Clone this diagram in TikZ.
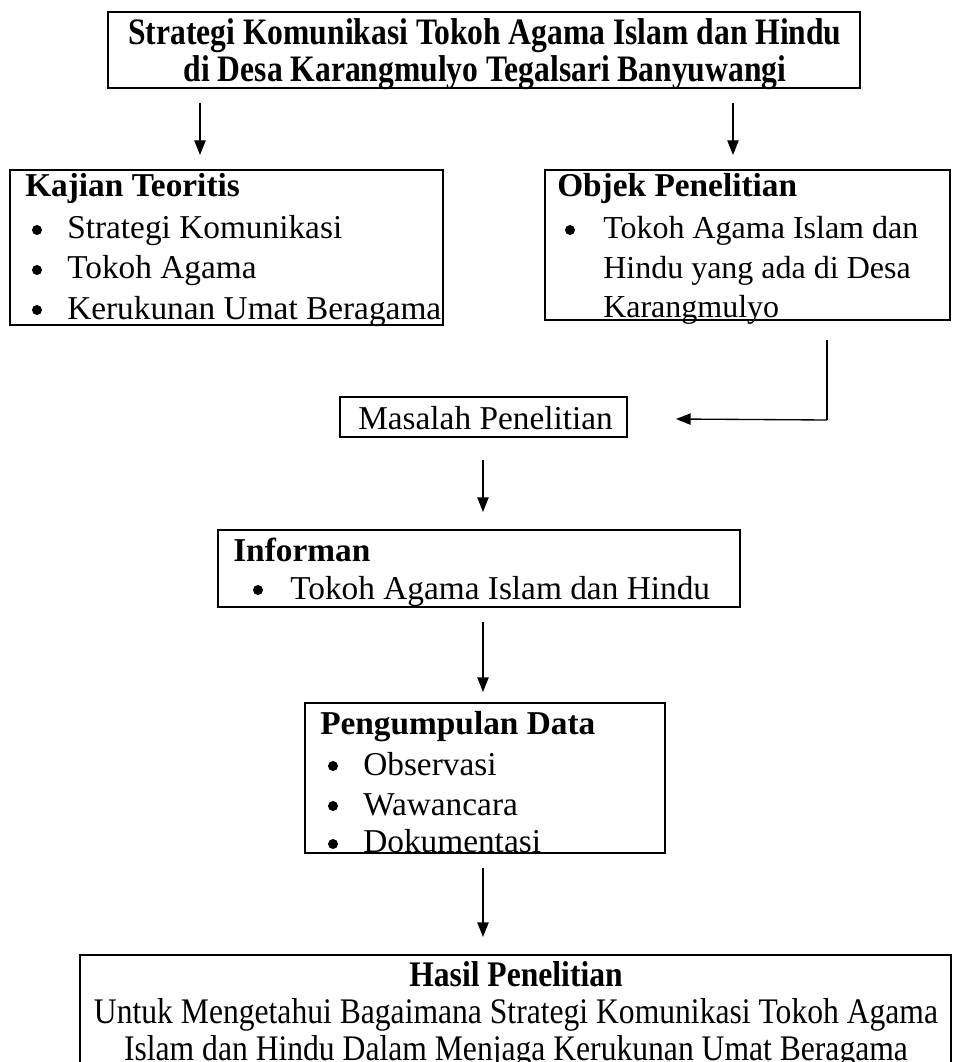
\documentclass[tikz,border=0pt]{standalone}
\usepackage{fontspec}
\setmainfont{Liberation Serif}
\usetikzlibrary{arrows.meta,fit}
\begin{document}
\begin{tikzpicture}[x=0.75pt,y=-0.75pt,
  frame/.style={draw, line width=1.8pt, inner sep=0pt, outer sep=0pt},
  txt/.style={anchor=base west, inner sep=0pt, font=\fontsize{25}{30}\selectfont},
  otxt/.style={anchor=base west, inner sep=0pt, font=\fontsize{24}{30}\selectfont},
  btxt/.style={txt, font=\fontsize{25}{30}\selectfont\bfseries},
  ctr/.style={anchor=base, inner sep=0pt, font=\fontsize{27}{32}\selectfont},
  bctr/.style={ctr, font=\fontsize{27}{32}\selectfont\bfseries},
  tctr/.style={anchor=base, inner sep=0pt, font=\fontsize{28}{32}\selectfont\bfseries},
  bul/.style={circle, fill, inner sep=0pt, minimum size=7.5pt},
  arr/.style={-{Triangle[length=11pt,width=8.5pt]}, line width=1pt}]
\useasboundingbox (0,0) rectangle (953,1062);
% boxes
\node[frame, fit={(108,12) (860,88)}] (top) {};
\node[frame, fit={(10,170) (443,325)}] (kaj) {};
\node[frame, fit={(545,170) (950,320)}] (obj) {};
\node[frame, fit={(340,397) (627,437)}] (mas) {};
\node[frame, fit={(218,530) (740,607)}] (inf) {};
\node[frame, fit={(305,703) (665,853)}] (pen) {};
\node[frame, fit={(80,955) (951,1075)}] (has) {};
% top title
\node[tctr] (t1) at (485,45) {\scalebox{0.846}[1]{Strategi Komunikasi Tokoh Agama Islam dan Hindu}};
\node[tctr] (t2) at (485,82) {\scalebox{0.846}[1]{di Desa Karangmulyo Tegalsari Banyuwangi}};
% kajian
\node[btxt] (k0) at (25,197) {Kajian Teoritis};
\node[bul] (kb1) at (37,230) {};
\node[txt] (k1) at (67,239) {Strategi Komunikasi};
\node[bul] (kb2) at (37,270) {};
\node[txt] (k2) at (67,279) {Tokoh Agama};
\node[bul] (kb3) at (37,310) {};
\node[txt] (k3) at (67,319) {Kerukunan Umat Beragama};
% objek
\node[btxt] (o0) at (557,197) {Objek Penelitian};
\node[bul] (ob1) at (570,230) {};
\node[otxt] (o1) at (603,239) {Tokoh Agama Islam dan};
\node[otxt] (o2) at (603,279) {Hindu yang ada di Desa};
\node[otxt] (o3) at (603,317) {Karangmulyo};
% masalah
\node[txt] (m0) at (358,429) {Masalah Penelitian};
% informan
\node[btxt] (i0) at (233,561) {Informan};
\node[bul] (ib1) at (258,590) {};
\node[txt] (i1) at (290,599) {Tokoh Agama Islam dan Hindu};
% pengumpulan
\node[btxt] (p0) at (320,734) {Pengumpulan Data};
\node[bul] (pb1) at (333,766) {};
\node[txt] (p1) at (363,775) {Observasi};
\node[bul] (pb2) at (333,806) {};
\node[txt] (p2) at (363,815) {Wawancara};
\node[bul] (pb3) at (333,844) {};
\node[txt] (p3) at (363,852) {Dokumentasi};
% hasil
\node[bctr] (h0) at (516,986) {\scalebox{0.878}[1]{Hasil Penelitian}};
\node[ctr] (h1) at (516,1023) {\scalebox{0.878}[1]{Untuk Mengetahui Bagaimana Strategi Komunikasi Tokoh Agama}};
\node[ctr] (h2) at (516,1060) {\scalebox{0.878}[1]{Islam dan Hindu Dalam Menjaga Kerukunan Umat Beragama}};
% connectors
\coordinate (a1s) at (200,103); \coordinate (a1e) at (200,155);
\coordinate (a2s) at (733,103); \coordinate (a2e) at (733,155);
\draw[arr] (a1s) -- (a1e);
\draw[arr] (a2s) -- (a2e);
\coordinate (c1) at (827,340); \coordinate (c2) at (827,420); \coordinate (c3) at (676,419);
\draw[line width=1pt] (c1) -- (c2);
\draw[arr] (c2) -- (c3);
\coordinate (a3s) at (483,460); \coordinate (a3e) at (483,512);
\draw[arr] (a3s) -- (a3e);
\coordinate (a4s) at (483,622); \coordinate (a4e) at (483,692);
\draw[arr] (a4s) -- (a4e);
\coordinate (a5s) at (483,868); \coordinate (a5e) at (483,937);
\draw[arr] (a5s) -- (a5e);
\end{tikzpicture}
\end{document}
